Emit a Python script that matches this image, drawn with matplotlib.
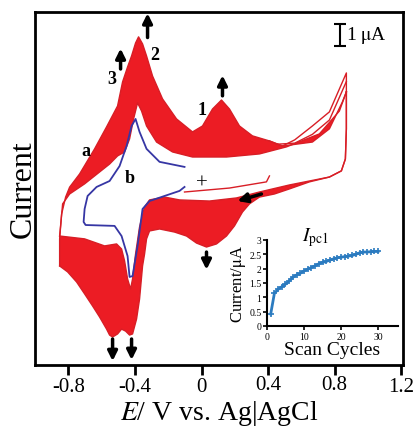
import numpy as np
import matplotlib
matplotlib.use("Agg")
import matplotlib.pyplot as plt
from matplotlib.transforms import ScaledTranslation

plt.rcParams['font.family'] = ['Liberation Serif', 'DejaVu Serif']
plt.rcParams['mathtext.fontset'] = 'stix'

# potentials (V vs Ag|AgCl) and currents (uA)
# last cycle (outer edge of the red band)
outer_an_E = [-0.852, -0.852, -0.840, -0.816, -0.792, -0.732, -0.642, -0.570, -0.504, -0.474,
              -0.444, -0.420, -0.396, -0.378, -0.354, -0.330, -0.294, -0.234, -0.150, -0.054,
              0.006, 0.066, 0.120, 0.168, 0.228, 0.306, 0.408, 0.486, 0.666, 0.768, 0.846, 0.870]
outer_an_I = [-1.68, -0.45, 0.68, 1.45, 1.90, 2.50, 3.64, 4.64, 5.59, 6.68,
              7.36, 7.86, 8.45, 8.73, 8.41, 7.86, 6.95, 5.91, 5.00, 4.41,
              4.68, 5.45, 5.86, 5.45, 4.68, 4.23, 4.00, 3.77, 3.95, 4.55, 5.77, 6.23]
outer_ca_E = [0.870, 0.870, 0.864, 0.840, 0.768, 0.648, 0.528, 0.438, 0.348, 0.288,
              0.246, 0.198, 0.150, 0.090, 0.030, -0.030, -0.090, -0.162, -0.252, -0.312,
              -0.330, -0.342, -0.354, -0.372, -0.390, -0.414, -0.432, -0.456, -0.480, -0.504,
              -0.534, -0.552, -0.570, -0.612, -0.654, -0.702, -0.750, -0.804, -0.852]
outer_ca_I = [6.23, 4.55, 3.18, 2.64, 2.36, 2.14, 1.82, 1.59, 1.45, 1.14,
              0.77, 0.14, -0.32, -0.68, -0.82, -0.64, -0.32, -0.14, 0.00, -0.09,
              -0.45, -1.14, -1.68, -3.18, -4.09, -4.77, -4.82, -4.64, -4.55, -4.77,
              -4.91, -4.82, -4.55, -4.00, -3.50, -2.95, -2.41, -1.95, -1.68]

# first cycle (inner edge of the red band)
inner_an_E = [-0.852, -0.834, -0.792, -0.702, -0.642, -0.552, -0.504, -0.462, -0.432, -0.408,
              -0.384, -0.360, -0.330, -0.270, -0.174, -0.054, 0.150, 0.348, 0.510, 0.708,
              0.828, 0.870]
inner_an_I = [-0.32, 1.14, 1.59, 2.05, 2.41, 2.95, 3.32, 3.50, 4.09, 5.00,
              5.73, 5.36, 4.68, 3.95, 3.50, 3.27, 3.27, 3.41, 3.73, 4.32,
              5.36, 6.23]
inner_ca_E = [0.870, 0.870, 0.864, 0.840, 0.768, 0.648, 0.528, 0.348, 0.210, 0.048,
              -0.132, -0.222, -0.312, -0.342, -0.372, -0.396, -0.414, -0.426, -0.444, -0.462,
              -0.480, -0.510, -0.582, -0.702, -0.852]
inner_ca_I = [6.23, 4.55, 3.18, 2.64, 2.36, 2.18, 2.00, 1.68, 1.41, 1.27,
              1.32, 1.45, 1.32, 1.00, 0.09, -1.14, -2.27, -2.73, -2.27, -1.45,
              -0.91, -0.68, -0.77, -0.45, -0.32]

# early cycles reaching higher at the positive vertex
early1_E = [0.408, 0.486, 0.560, 0.666, 0.768, 0.870, 0.870]
early1_I = [4.00, 3.77, 4.05, 4.68, 5.32, 7.09, 6.20]
early2_E = [0.450, 0.560, 0.666, 0.768, 0.870]
early2_I = [3.85, 3.90, 4.30, 4.95, 6.70]

# start of the first scan ("+")
start_E = [-0.102, 0.168, 0.390, 0.408]
start_I = [1.68, 1.86, 2.14, 2.41]

# curve b (blue)
b_E = [-0.102, -0.252, -0.330, -0.372, -0.396, -0.420, -0.450, -0.492, -0.552, -0.630,
       -0.684, -0.702, -0.708, -0.696, -0.522, -0.480, -0.444, -0.432, -0.414, -0.384,
       -0.354, -0.312, -0.222, -0.132, -0.102]
b_I = [2.82, 3.05, 3.64, 4.41, 5.00, 4.68, 3.77, 2.86, 2.18, 1.91,
       1.50, 0.91, 0.32, 0.18, 0.14, -0.32, -1.23, -2.18, -2.14, -0.77,
       0.91, 1.27, 1.50, 1.73, 1.91]

# inset: Ipc1 vs scan cycle
cycles = list(range(1, 31))
ipc1 = [0.42, 1.14, 1.28, 1.37, 1.46, 1.57, 1.70, 1.78, 1.84, 1.92,
        1.98, 2.04, 2.10, 2.17, 2.22, 2.25, 2.30, 2.34, 2.38, 2.40,
        2.42, 2.44, 2.46, 2.50, 2.55, 2.58, 2.58, 2.59, 2.60, 2.60]

red = '#ec1c24'
blue = '#3636a4'

fig = plt.figure(figsize=(4.20, 4.27), dpi=100)
ax = fig.add_axes([0.0833, 0.1429, 0.8762, 0.8267])

ax.fill(outer_an_E + inner_an_E[::-1], outer_an_I + inner_an_I[::-1], color=red, lw=0)
ax.fill(outer_ca_E + inner_ca_E[::-1], outer_ca_I + inner_ca_I[::-1], color=red, lw=0)
for e, i in [(outer_an_E, outer_an_I), (outer_ca_E, outer_ca_I),
             (inner_an_E, inner_an_I), (inner_ca_E, inner_ca_I),
             (early1_E, early1_I), (early2_E, early2_I), (start_E, start_I)]:
    ax.plot(e, i, color='#d81e26', lw=1.0)
ax.plot(b_E, b_I, color=blue, lw=1.3)

ax.set_xlim(-1.0, 1.21)
ax.set_ylim(-6.18, 9.86)
ax.set_xticks([-0.8, -0.4, 0, 0.4, 0.8, 1.2])
ax.set_xticklabels(['-0.8', '-0.4', '0', '0.4', '0.8', '1.2'])
ax.set_yticks([])
ax.tick_params(axis='x', direction='out', length=7, width=2, labelsize=15, pad=2)
for lbl in ax.get_xticklabels()[3:5]:
    lbl.set_transform(lbl.get_transform() + ScaledTranslation(0, 2 / 72, fig.dpi_scale_trans))
for s in ax.spines.values():
    s.set_linewidth(2)
ax.set_xlabel(r'$E$/ V vs. Ag|AgCl', fontsize=20, va='center')
ax.xaxis.set_label_coords(0.5, -0.134)
ax.set_ylabel('Current', fontsize=23, va='center')
ax.yaxis.set_label_coords(-0.033, 0.5)

# arrows
arw = dict(arrowstyle='-|>', color='k', lw=2.5, mutation_scale=14, shrinkA=0, shrinkB=0)
for tail, head in [((-0.324, 8.70), (-0.324, 9.80)),
                   ((-0.486, 7.27), (-0.486, 8.20)),
                   ((0.126, 6.05), (0.126, 6.98)),
                   ((0.36, 1.59), (0.216, 1.27)),
                   ((0.03, -1.05), (0.03, -1.85)),
                   ((-0.534, -5.00), (-0.534, -6.00)),
                   ((-0.420, -5.00), (-0.420, -5.95))]:
    ax.annotate('', xy=head, xytext=tail, arrowprops=arw)

lab = dict(fontsize=13, fontweight='bold', ha='center', va='center')
ax.text(-0.282, 7.95, '2', **lab)
ax.text(-0.540, 6.82, '3', **lab)
ax.text(0.006, 5.45, '1', **lab)
ax.text(-0.696, 3.55, 'a', **lab)
ax.text(-0.432, 2.36, 'b', **lab)
ax.text(0.0, 2.10, '+', fontsize=15, ha='center', va='center')

# scale bar 1 uA
ax.errorbar([0.834], [8.82], yerr=0.5, color='k', capsize=4, lw=1.5, capthick=1.5)
ax.text(0.865, 8.82, r'1 $\mathrm{\mu}$A', fontsize=14, ha='left', va='center')

# inset
ins = fig.add_axes([0.6357, 0.2342, 0.3119, 0.2014])
ins.plot(cycles, ipc1, color='#2b7bc0', lw=2, marker='+', ms=4, mew=1.2)
ins.set_xlim(0, 35.4)
ins.set_ylim(0, 3)
ins.set_xticks([0, 10, 20, 30])
ins.set_yticks([0, 0.5, 1, 1.5, 2, 2.5, 3])
ins.set_yticklabels(['0', '0.5', '1', '1.5', '2', '2.5', '3'])
ins.tick_params(direction='out', length=3, width=1.2, labelsize=7, pad=1)
ins.spines['top'].set_visible(False)
ins.spines['right'].set_visible(False)
for s in ['left', 'bottom']:
    ins.spines[s].set_linewidth(1.5)
ins.patch.set_alpha(0)
ins.set_xlabel('Scan Cycles', fontsize=14, labelpad=0)
ins.set_ylabel(r'Current/$\mathrm{\mu}$A', fontsize=12, labelpad=1)
ins.text(13, 2.72, r'$I_{\mathrm{pc1}}$', fontsize=14, ha='center', va='bottom')

fig.savefig('out.png', dpi=100)
